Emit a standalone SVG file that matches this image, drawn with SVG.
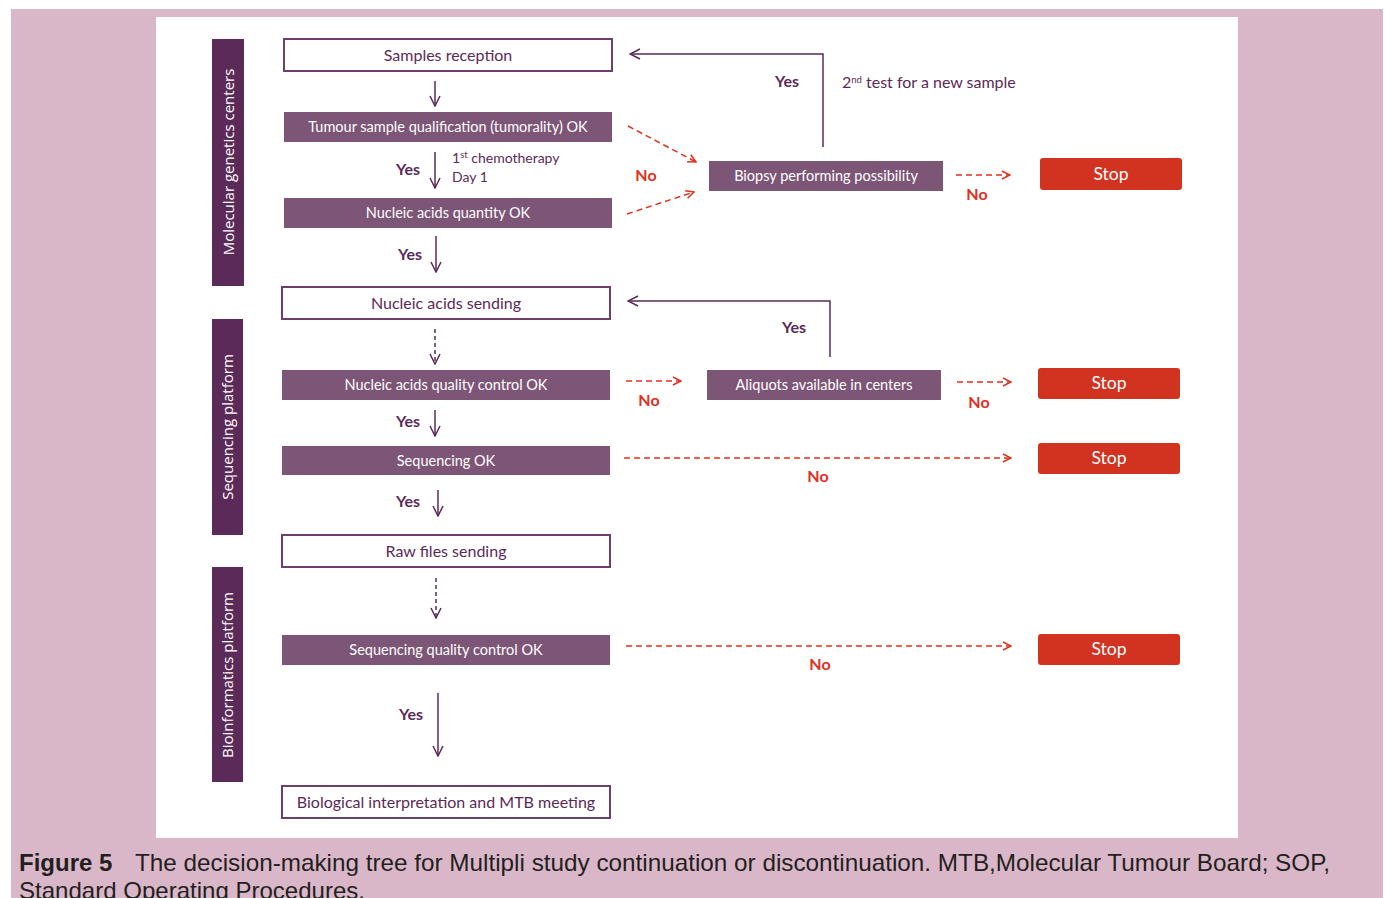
<svg xmlns="http://www.w3.org/2000/svg" width="1385" height="898" viewBox="0 0 1385 898">
<defs>
<style>
.bar{fill:#5c2a58}
.bartxt{font-family:"Open Sans",sans-serif;font-size:15px;fill:#ffffff;text-anchor:middle}
.wbox{fill:#ffffff;stroke:#6e3f6a;stroke-width:2}
.fbox{fill:#7d5577}
.stop{fill:#d23321}
.wt{font-family:Lato,"Noto Sans",sans-serif;font-size:16px;fill:#5b2a58;text-anchor:middle}
.ft{font-family:Lato,"Noto Sans",sans-serif;font-size:14.5px;fill:#ffffff;text-anchor:middle}
.st{font-family:Lato,"Noto Sans",sans-serif;font-size:17.5px;fill:#ffffff;text-anchor:middle}
.yes{font-family:Lato,"Noto Sans",sans-serif;font-size:16px;font-weight:bold;fill:#5b2a58;text-anchor:middle}
.no{font-family:Lato,"Noto Sans",sans-serif;font-size:16px;font-weight:bold;fill:#e0301e;text-anchor:middle}
.note{font-family:Lato,"Noto Sans",sans-serif;font-size:14px;fill:#5b2a58}
.note2{font-family:Lato,"Noto Sans",sans-serif;font-size:16px;fill:#5b2a58}
.sup{font-size:9.5px}
.pl{fill:none;stroke:#5b2a58;stroke-width:1.5}
.pd{fill:none;stroke:#5b2a58;stroke-width:1.5;stroke-dasharray:4 3}
.rd{fill:none;stroke:#e0301e;stroke-width:1.5;stroke-dasharray:6 4}
.cap{font-family:"Liberation Sans",Arial,sans-serif;font-size:24px;fill:#231f20}
</style>
<marker id="ap" viewBox="0 0 12 12" refX="11" refY="6" markerWidth="12" markerHeight="12" markerUnits="userSpaceOnUse" orient="auto">
<path d="M1,1 L11,6 L1,11" fill="none" stroke="#5b2a58" stroke-width="1.5"/>
</marker>
<marker id="ar" viewBox="0 0 10 10" refX="9" refY="5" markerWidth="10" markerHeight="10" markerUnits="userSpaceOnUse" orient="auto">
<path d="M1,1 L9,5 L1,9" fill="none" stroke="#e0301e" stroke-width="1.5"/>
</marker>
</defs>
<rect x="11" y="9" width="1372" height="889" fill="#dab7c8"/>
<rect x="156" y="17" width="1082" height="821" fill="#ffffff"/>

<g id="lane-molecular"><rect class="bar" x="212" y="39" width="32" height="247"/><text class="bartxt" transform="translate(234,162) rotate(-90)">Molecular genetics centers</text></g>
<g id="lane-sequencing"><rect class="bar" x="212" y="319" width="31" height="216"/><text class="bartxt" transform="translate(233,427) rotate(-90)">Sequencing platform</text></g>
<g id="lane-bioinfo"><rect class="bar" x="212" y="567" width="31" height="215"/><text class="bartxt" transform="translate(233,675) rotate(-90)">Bioinformatics platform</text></g>

<g id="n-samples"><rect class="wbox" x="284" y="39" width="328" height="32"/><text class="wt" x="448" y="61">Samples reception</text></g>
<g id="n-tumour"><rect class="fbox" x="284" y="112" width="328" height="30"/><text class="ft" x="448" y="132">Tumour sample qualification (tumorality)  OK</text></g>
<g id="n-quantity"><rect class="fbox" x="284" y="198" width="328" height="30"/><text class="ft" x="448" y="218">Nucleic acids quantity OK</text></g>
<g id="n-sending"><rect class="wbox" x="282" y="287" width="328" height="32"/><text class="wt" x="446" y="309">Nucleic acids sending</text></g>
<g id="n-qc"><rect class="fbox" x="282" y="370" width="328" height="30"/><text class="ft" x="446" y="390">Nucleic acids quality control OK</text></g>
<g id="n-seq"><rect class="fbox" x="282" y="446" width="328" height="29"/><text class="ft" x="446" y="466">Sequencing OK</text></g>
<g id="n-raw"><rect class="wbox" x="282" y="535" width="328" height="32"/><text class="wt" x="446" y="557">Raw files sending</text></g>
<g id="n-seqqc"><rect class="fbox" x="282" y="635" width="328" height="30"/><text class="ft" x="446" y="655">Sequencing quality control OK</text></g>
<g id="n-bio"><rect class="wbox" x="282" y="786" width="328" height="32"/><text class="wt" x="446" y="808">Biological interpretation and MTB meeting</text></g>
<g id="n-biopsy"><rect class="fbox" x="709" y="161" width="234" height="30"/><text class="ft" x="826" y="181">Biopsy performing possibility</text></g>
<g id="n-aliquots"><rect class="fbox" x="707" y="370" width="234" height="30"/><text class="ft" x="824" y="390">Aliquots available in centers</text></g>
<g id="n-stop1"><rect class="stop" x="1040" y="158" width="142" height="32" rx="3"/><text class="st" x="1111" y="180">Stop</text></g>
<g id="n-stop2"><rect class="stop" x="1038" y="368" width="142" height="31" rx="3"/><text class="st" x="1109" y="389">Stop</text></g>
<g id="n-stop3"><rect class="stop" x="1038" y="443" width="142" height="31" rx="3"/><text class="st" x="1109" y="464">Stop</text></g>
<g id="n-stop4"><rect class="stop" x="1038" y="634" width="142" height="31" rx="3"/><text class="st" x="1109" y="655">Stop</text></g>

<g id="connectors">
<line class="pl" x1="435" y1="81" x2="435" y2="106" marker-end="url(#ap)"/>
<line class="pl" x1="435" y1="152" x2="435" y2="188" marker-end="url(#ap)"/>
<line class="pl" x1="436" y1="236" x2="436" y2="272" marker-end="url(#ap)"/>
<line class="pd" x1="435" y1="329" x2="435" y2="364" marker-end="url(#ap)"/>
<line class="pl" x1="435" y1="410" x2="435" y2="436" marker-end="url(#ap)"/>
<line class="pl" x1="438" y1="490" x2="438" y2="516" marker-end="url(#ap)"/>
<line class="pd" x1="436" y1="578" x2="436" y2="618" marker-end="url(#ap)"/>
<line class="pl" x1="438" y1="693" x2="438" y2="756" marker-end="url(#ap)"/>
<polyline class="pl" points="823,147 823,54 630,54" marker-end="url(#ap)"/>
<polyline class="pl" points="830,357 830,301 628,301" marker-end="url(#ap)"/>
<line class="rd" x1="628" y1="126" x2="696" y2="162" marker-end="url(#ar)"/>
<line class="rd" x1="627" y1="214" x2="694" y2="192" marker-end="url(#ar)"/>
<line class="rd" x1="956" y1="175" x2="1010" y2="175" marker-end="url(#ar)"/>
<line class="rd" x1="626" y1="381" x2="681" y2="381" marker-end="url(#ar)"/>
<line class="rd" x1="957" y1="382" x2="1011" y2="382" marker-end="url(#ar)"/>
<line class="rd" x1="624" y1="458" x2="1011" y2="458" marker-end="url(#ar)"/>
<line class="rd" x1="626" y1="646" x2="1011" y2="646" marker-end="url(#ar)"/>
</g>

<g id="labels">
<text class="yes" x="408" y="175">Yes</text>
<text class="note" x="452" y="163">1<tspan class="sup" dy="-5">st</tspan><tspan dy="5"> chemotherapy</tspan></text>
<text class="note" x="452" y="182">Day 1</text>
<text class="yes" x="410" y="260">Yes</text>
<text class="yes" x="408" y="427">Yes</text>
<text class="yes" x="408" y="507">Yes</text>
<text class="yes" x="411" y="720">Yes</text>
<text class="yes" x="787" y="87">Yes</text>
<text class="note2" x="842" y="88">2<tspan class="sup" dy="-5">nd</tspan><tspan dy="5"> test for a new sample</tspan></text>
<text class="yes" x="794" y="333">Yes</text>
<text class="no" x="646" y="181">No</text>
<text class="no" x="977" y="200">No</text>
<text class="no" x="649" y="406">No</text>
<text class="no" x="979" y="408">No</text>
<text class="no" x="818" y="482">No</text>
<text class="no" x="820" y="670">No</text>
</g>

<text class="cap" x="19" y="871" font-weight="bold">Figure 5</text>
<text class="cap" x="135" y="871" textLength="1195" lengthAdjust="spacingAndGlyphs">The decision-making tree for Multipli study continuation or discontinuation. MTB,Molecular Tumour Board; SOP,</text>
<text class="cap" x="19" y="899" textLength="346" lengthAdjust="spacingAndGlyphs">Standard Operating Procedures.</text>
</svg>
